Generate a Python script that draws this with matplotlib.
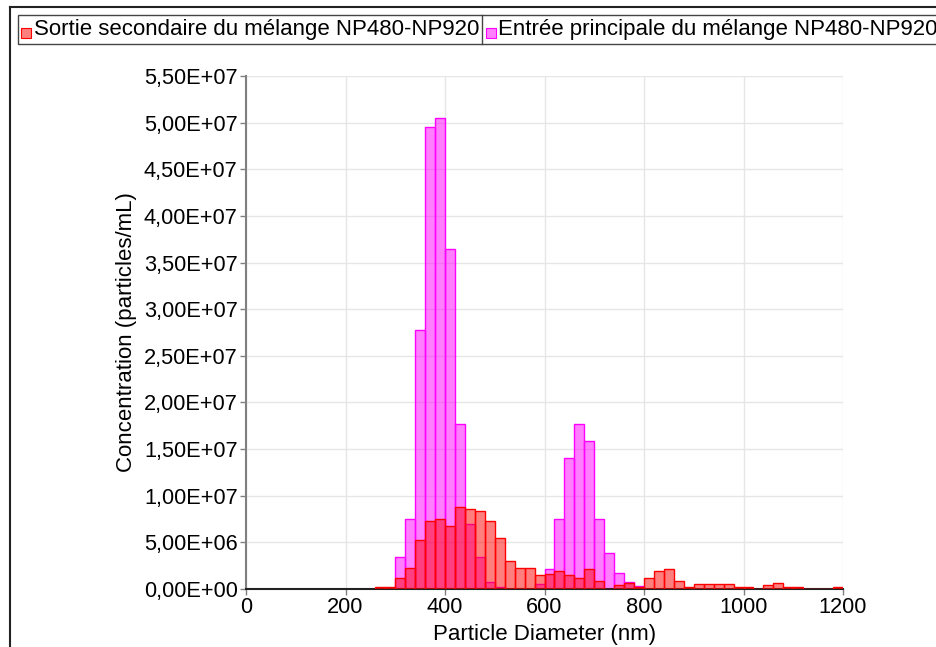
import matplotlib
matplotlib.use("Agg")
from matplotlib import pyplot as plt
from matplotlib.patches import Rectangle
from matplotlib.lines import Line2D
from matplotlib.ticker import FuncFormatter

plt.rcParams['font.family'] = ['Liberation Sans', 'DejaVu Sans']

bin_width = 20

# Sortie secondaire (red), bins starting at 260 nm
sortie_start = 260
sortie_values = [
    1.8e5, 1.8e5, 1.22e6, 2.25e6, 5.2e6, 7.34e6, 7.48e6, 6.76e6,
    8.8e6, 8.55e6, 8.37e6, 7.34e6, 5.44e6, 3.0e6, 2.25e6, 2.25e6,
    1.47e6, 1.65e6, 1.93e6, 1.5e6, 1.2e6, 2.15e6, 8.6e5, 0,
    4.3e5, 6.8e5, 2.5e5, 1.2e6, 1.93e6, 2.15e6, 8.6e5, 2.2e5,
    5.7e5, 5.7e5, 5.7e5, 5.7e5, 1.8e5, 1.8e5, 0, 3.9e5,
    6.1e5, 1.8e5, 1.8e5, 0, 0, 0, 1.8e5,
]

# Entree principale (magenta), bins starting at 300 nm
entree_start = 300
entree_values = [
    3.4e6, 7.48e6, 2.78e7, 4.95e7, 5.05e7, 3.65e7, 1.77e7, 6.98e6,
    3.44e6, 7.5e5, 2.5e5, 0, 0, 0, 5.4e5, 2.15e6,
    7.55e6, 1.40e7, 1.77e7, 1.59e7, 7.55e6, 3.87e6, 1.68e6, 7.5e5,
    3.2e5,
]

label_sortie = "Sortie secondaire du mélange NP480-NP920"
label_entree = "Entrée principale du mélange NP480-NP920"

W, H = 936, 647
fig = plt.figure(figsize=(W / 100, H / 100), dpi=100)
ax = fig.add_axes([246 / W, 1 - 589 / H, (843 - 246) / W, (589 - 76) / H])

sortie_x = [sortie_start + i * bin_width for i in range(len(sortie_values))]
entree_x = [entree_start + i * bin_width for i in range(len(entree_values))]

ax.bar(entree_x, entree_values, width=bin_width, align='edge',
       color=(1, 0, 1, 0.5), edgecolor='#ff00ff', linewidth=1.0, zorder=2)
ax.bar(sortie_x, sortie_values, width=bin_width, align='edge',
       color=(1, 0, 0, 0.5), edgecolor='#ff0000', linewidth=1.0, zorder=3)

ax.set_xlim(0, 1200)
ax.set_ylim(0, 5.5e7)
ax.set_xticks(range(0, 1201, 200))
ax.set_yticks([i * 5e6 for i in range(12)])
ax.yaxis.set_major_formatter(FuncFormatter(lambda v, p: f"{v:.2E}".replace('.', ',')))

ax.grid(True, color='#e6e6e6', linewidth=1.0, zorder=0)
ax.set_axisbelow(True)
for s in ['top', 'right']:
    ax.spines[s].set_visible(False)
ax.spines['left'].set_color('#808080')
ax.spines['left'].set_linewidth(1.5)
ax.spines['bottom'].set_color('#222222')
ax.spines['bottom'].set_linewidth(1.5)
ax.tick_params(axis='both', labelsize=15.7, length=4, width=1, color='#808080', pad=2)

ax.set_xlabel("Particle Diameter (nm)", fontsize=16, labelpad=4)
ax.set_ylabel("Concentration (particles/mL)", fontsize=16, labelpad=5)

# outer frame
fig.add_artist(Line2D([10 / W, 1], [1 - 7 / H, 1 - 7 / H], transform=fig.transFigure,
                      color='#222222', linewidth=1.5))
fig.add_artist(Line2D([10 / W, 10 / W], [0, 1 - 7 / H], transform=fig.transFigure,
                      color='#222222', linewidth=1.5))

# legend box
fig.add_artist(Rectangle((18 / W, 1 - 44 / H), (W + 10 - 18) / W, 29 / H,
                         transform=fig.transFigure, fill=False,
                         edgecolor='#444444', linewidth=1.0))
fig.add_artist(Line2D([482 / W, 482 / W], [1 - 44 / H, 1 - 15 / H], transform=fig.transFigure,
                      color='#444444', linewidth=1.0))
fig.add_artist(Rectangle((21 / W, 1 - 38 / H), 10 / W, 10 / H, transform=fig.transFigure,
                         facecolor=(1, 0, 0, 0.5), edgecolor='#ff0000', linewidth=0.8))
fig.add_artist(Rectangle((486 / W, 1 - 38 / H), 10 / W, 10 / H, transform=fig.transFigure,
                         facecolor=(1, 0, 1, 0.5), edgecolor='#ff00ff', linewidth=0.8))
fig.text(34 / W, 1 - 30 / H, label_sortie, fontsize=16, va='center', ha='left')
fig.text(498 / W, 1 - 30 / H, label_entree, fontsize=16, va='center', ha='left')

fig.savefig("out.png", dpi=100)
